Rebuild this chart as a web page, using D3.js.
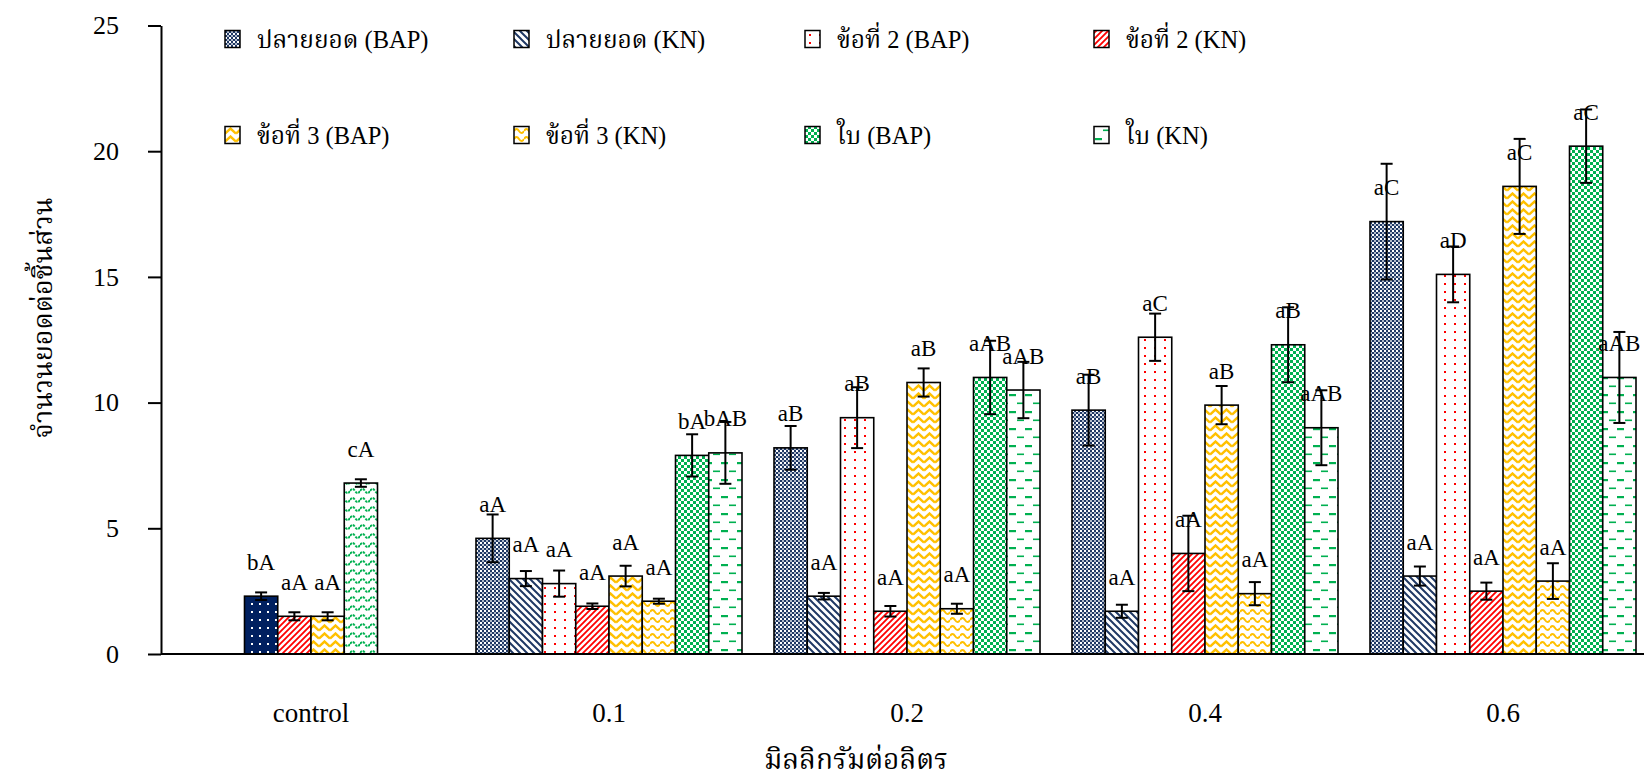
<!DOCTYPE html>
<html>
<head>
<meta charset="utf-8">
<script src="https://cdn.jsdelivr.net/npm/d3@7/dist/d3.min.js"></script>
<style>
  body { margin: 0; background: #fff; }
  svg text { font-family: "Liberation Serif", "Times New Roman", serif; fill: #000; }
  svg .thai { font-family: "Liberation Serif", "Noto Serif Thai", "Noto Sans Thai", "Loma", "Garuda", serif; }
</style>
</head>
<body>
<script>
// concentrations (mg/L)
const categories = ['control', '0.1', '0.2', '0.4', '0.6'];

const seriesKeys  = ['tipBAP', 'tipKN', 'node2BAP', 'node2KN', 'node3BAP', 'node3KN', 'leafBAP', 'leafKN'];
const seriesNames = ['ปลายยอด (BAP)', 'ปลายยอด (KN)', 'ข้อที่ 2 (BAP)', 'ข้อที่ 2 (KN)',
                     'ข้อที่ 3 (BAP)', 'ข้อที่ 3 (KN)', 'ใบ (BAP)', 'ใบ (KN)'];

// mean shoots per explant, one value per category
const tipBAP   = [null, 4.6, 8.2, 9.7, 17.2];
const tipKN    = [null, 3.0, 2.3, 1.7, 3.1];
const node2BAP = [2.3, 2.8, 9.4, 12.6, 15.1];
const node2KN  = [1.5, 1.9, 1.7, 4.0, 2.5];
const node3BAP = [1.5, 3.1, 10.8, 9.9, 18.6];
const node3KN  = [6.8, 2.1, 1.8, 2.4, 2.9];
const leafBAP  = [null, 7.9, 11.0, 12.3, 20.2];
const leafKN   = [null, 8.0, 10.5, 9.0, 11.0];

// standard errors
const tipBAPErr   = [null, 0.95, 0.87, 1.41, 2.3];
const tipKNErr    = [null, 0.3, 0.13, 0.26, 0.38];
const node2BAPErr = [0.15, 0.52, 1.21, 0.94, 1.11];
const node2KNErr  = [0.16, 0.11, 0.21, 1.5, 0.34];
const node3BAPErr = [0.16, 0.41, 0.56, 0.76, 1.89];
const node3KNErr  = [0.15, 0.1, 0.2, 0.46, 0.71];
const leafBAPErr  = [null, 0.84, 1.46, 1.49, 1.46];
const leafKNErr   = [null, 1.23, 1.12, 1.49, 1.81];

// significance letters
const tipBAPLbl   = [null, 'aA', 'aB', 'aB', 'aC'];
const tipKNLbl    = [null, 'aA', 'aA', 'aA', 'aA'];
const node2BAPLbl = ['bA', 'aA', 'aB', 'aC', 'aD'];
const node2KNLbl  = ['aA', 'aA', 'aA', 'aA', 'aA'];
const node3BAPLbl = ['aA', 'aA', 'aB', 'aB', 'aC'];
const node3KNLbl  = ['cA', 'aA', 'aA', 'aA', 'aA'];
const leafBAPLbl  = [null, 'bA', 'aAB', 'aB', 'aC'];
const leafKNLbl   = [null, 'bAB', 'aAB', 'aAB', 'aAB'];

// the control bars got their own fills
const controlFills = [null, null, 'ctrlNavy', 'node2KN', 'node3BAP', 'ctrlWave', null, null];

const yTicks = [0, 5, 10, 15, 20, 25];

const values = [tipBAP, tipKN, node2BAP, node2KN, node3BAP, node3KN, leafBAP, leafKN];
const errors = [tipBAPErr, tipKNErr, node2BAPErr, node2KNErr, node3BAPErr, node3KNErr, leafBAPErr, leafKNErr];
const labels = [tipBAPLbl, tipKNLbl, node2BAPLbl, node2KNLbl, node3BAPLbl, node3KNLbl, leafBAPLbl, leafKNLbl];

const WIDTH  = 1644;
const HEIGHT = 781;
const AXIS_X = 161;
const AXIS_Y = 654;
const TOP_Y  = 25.5;
const GROUP_GAP = 32;

const NAVY      = '#1f3864';
const NAVY_DARK = '#002060';
const RED       = '#ff0000';
const YELLOW    = '#ffc000';
const GREEN     = '#00b050';

const svg = d3.select('body').append('svg')
  .attr('width', WIDTH)
  .attr('height', HEIGHT);

/**
 * fill patterns
 */
const defs = svg.append('defs');

function pattern(id, w, h, bg) {
  const p = defs.append('pattern')
    .attr('id', 'p-' + id)
    .attr('patternUnits', 'userSpaceOnUse')
    .attr('width', w)
    .attr('height', h);
  p.append('rect').attr('width', w).attr('height', h).attr('fill', bg);
  return p;
}

let p;
// ปลายยอด BAP: fine checker
p = pattern('tipBAP', 4, 4, '#fff');
p.append('rect').attr('width', 2).attr('height', 2).attr('fill', NAVY);
p.append('rect').attr('x', 2).attr('y', 2).attr('width', 2).attr('height', 2).attr('fill', NAVY);
p.append('rect').attr('x', 2).attr('width', 2).attr('height', 2).attr('fill', NAVY).attr('opacity', 0.35);

// ปลายยอด KN: downward diagonal
p = pattern('tipKN', 7, 7, '#fff');
p.append('path').attr('d', 'M-1,-1L8,8M-4,3L1,8M6,-1L8,1')
  .attr('stroke', NAVY).attr('stroke-width', 2);

// ข้อที่ 2 BAP: red dots
p = pattern('node2BAP', 10, 8, '#fff');
p.append('rect').attr('x', 4).attr('y', 3).attr('width', 2).attr('height', 2).attr('fill', RED);

// ข้อที่ 2 KN: upward diagonal
p = pattern('node2KN', 6, 6, '#fff');
p.append('path').attr('d', 'M-1,7L7,-1M-3,3L3,-3M3,9L9,3')
  .attr('stroke', RED).attr('stroke-width', 1.8);

// ข้อที่ 3 BAP: zigzag
p = pattern('node3BAP', 11, 8, '#fff');
p.append('path').attr('d', 'M0,6.5L5.5,1.5L11,6.5')
  .attr('fill', 'none').attr('stroke', YELLOW).attr('stroke-width', 2.4)
  .attr('stroke-linejoin', 'miter');

// ข้อที่ 3 KN: wave
p = pattern('node3KN', 10, 8, '#fff');
p.append('path').attr('d', 'M0,4Q2.5,0 5,4T10,4')
  .attr('fill', 'none').attr('stroke', YELLOW).attr('stroke-width', 2);

// ใบ BAP: large checker
p = pattern('leafBAP', 6, 6, '#fff');
p.append('rect').attr('width', 3).attr('height', 3).attr('fill', GREEN);
p.append('rect').attr('x', 3).attr('y', 3).attr('width', 3).attr('height', 3).attr('fill', GREEN);

// ใบ KN: dashes
p = pattern('leafKN', 16, 17, '#fff');
p.append('rect').attr('x', 1).attr('y', 3).attr('width', 7).attr('height', 2.2).attr('fill', GREEN);
p.append('rect').attr('x', 9).attr('y', 11.5).attr('width', 7).attr('height', 1.6).attr('fill', GREEN);

// control: navy with white dots
p = pattern('ctrlNavy', 8, 8, NAVY_DARK);
p.append('rect').attr('x', 3).attr('y', 3).attr('width', 2).attr('height', 2).attr('fill', '#fff');

// control: green wave
p = pattern('ctrlWave', 10, 9, '#fff');
p.append('path').attr('d', 'M0,5Q2.5,1 5,5T10,5')
  .attr('fill', 'none').attr('stroke', GREEN).attr('stroke-width', 2).attr('stroke-dasharray', '2.5,1');

/**
 * scales
 */
const y = d3.scaleLinear().domain([0, 25]).range([AXIS_Y, TOP_Y]);
const x0 = d3.scaleBand().domain(categories).range([162, 1652]);
const x1 = d3.scaleBand().domain(seriesKeys)
  .range([GROUP_GAP / 2, x0.bandwidth() - GROUP_GAP / 2]);

// flat list of bars
const bars = [];
categories.forEach(function (cat, ci) {
  seriesKeys.forEach(function (key, si) {
    const v = values[si][ci];
    if (v === null) return;
    let fill = key;
    if (ci === 0 && controlFills[si]) fill = controlFills[si];
    bars.push({
      cat: cat,
      key: key,
      value: v,
      err: errors[si][ci],
      label: labels[si][ci],
      fill: fill
    });
  });
});

const groups = svg.append('g');

groups.selectAll('rect.bar')
  .data(bars)
  .enter().append('rect')
    .attr('class', 'bar')
    .attr('x', d => x0(d.cat) + x1(d.key))
    .attr('y', d => y(d.value))
    .attr('width', x1.bandwidth())
    .attr('height', d => y(0) - y(d.value))
    .attr('fill', d => 'url(#p-' + d.fill + ')')
    .attr('stroke', '#000')
    .attr('stroke-width', 1.6);

// data labels sit above the bar top
groups.selectAll('text.lbl')
  .data(bars)
  .enter().append('text')
    .attr('class', 'lbl')
    .attr('x', d => x0(d.cat) + x1(d.key) + x1.bandwidth() / 2)
    .attr('y', d => y(d.value) - 26.5)
    .attr('text-anchor', 'middle')
    .style('font-size', '23px')
    .text(d => d.label);

// error bars
const CAP = 6;
const eb = groups.selectAll('g.err')
  .data(bars)
  .enter().append('g')
    .attr('class', 'err')
    .attr('transform', d => 'translate(' + (x0(d.cat) + x1(d.key) + x1.bandwidth() / 2) + ',0)')
    .attr('stroke', '#000')
    .attr('stroke-width', 2);
eb.append('line')
  .attr('y1', d => y(d.value + d.err))
  .attr('y2', d => y(d.value - d.err));
eb.append('line')
  .attr('x1', -CAP).attr('x2', CAP)
  .attr('y1', d => y(d.value + d.err))
  .attr('y2', d => y(d.value + d.err));
eb.append('line')
  .attr('x1', -CAP).attr('x2', CAP)
  .attr('y1', d => y(d.value - d.err))
  .attr('y2', d => y(d.value - d.err));

/**
 * axes
 */
const yAxis = svg.append('g')
  .attr('transform', 'translate(' + AXIS_X + ',0)')
  .call(d3.axisLeft(y).tickValues(yTicks).tickSize(13).tickSizeOuter(0).tickPadding(29));
yAxis.selectAll('path, line').attr('stroke', '#000').attr('stroke-width', 2);
yAxis.selectAll('text').style('font-size', '26px').attr('fill', '#000');

const xAxis = svg.append('g')
  .attr('transform', 'translate(0,' + AXIS_Y + ')')
  .call(d3.axisBottom(x0).tickSize(0).tickSizeOuter(0).tickPadding(49));
xAxis.select('.domain').attr('d', 'M' + AXIS_X + ',0H' + WIDTH).attr('stroke', '#000').attr('stroke-width', 2);
xAxis.selectAll('text').style('font-size', '27px').attr('fill', '#000');

// axis titles
svg.append('text')
  .attr('class', 'thai')
  .attr('transform', 'translate(52,318) rotate(-90)')
  .attr('text-anchor', 'middle')
  .style('font-size', '27px')
  .text('จำนวนยอดต่อชิ้นส่วน');

svg.append('text')
  .attr('class', 'thai')
  .attr('x', 856)
  .attr('y', 769)
  .attr('text-anchor', 'middle')
  .style('font-size', '28px')
  .text('มิลลิกรัมต่อลิตร');

/**
 * legend, 2 rows of 4
 */
const LEGEND_COL_X = [225, 514, 805, 1094];
const LEGEND_ROW_Y = [39, 135];

const legend = svg.append('g');
const item = legend.selectAll('g')
  .data(seriesKeys)
  .enter().append('g')
    .attr('transform', (d, i) => 'translate(' + LEGEND_COL_X[i % 4] + ',' + LEGEND_ROW_Y[Math.floor(i / 4)] + ')');
item.append('rect')
  .attr('x', 0).attr('y', -8.5)
  .attr('width', 15).attr('height', 17)
  .attr('fill', d => 'url(#p-' + d + ')')
  .attr('stroke', '#000')
  .attr('stroke-width', 1.5);
item.append('text')
  .attr('class', 'thai')
  .attr('x', 32)
  .attr('y', 8.5)
  .style('font-size', '24.5px')
  .text((d, i) => seriesNames[i]);
</script>
</body>
</html>
